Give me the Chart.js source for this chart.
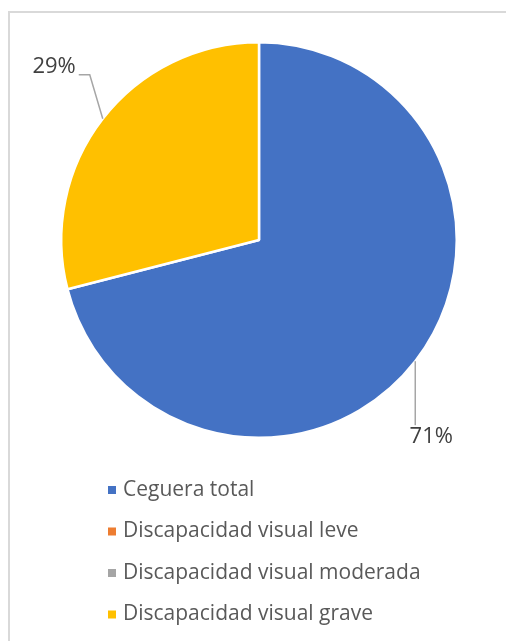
<!DOCTYPE html>
<html>
<head>
<meta charset="utf-8">
<script src="https://cdn.jsdelivr.net/npm/chart.js@4.4.1/dist/chart.umd.min.js"></script>
<style>
  html, body { margin: 0; padding: 0; background: #fff; }
  #wrap { width: 506px; height: 641px; position: relative; }
</style>
</head>
<body>
<div id="wrap"><canvas id="chart"></canvas></div>
<script>
// Data
const categories = ['Ceguera total', 'Discapacidad visual leve', 'Discapacidad visual moderada', 'Discapacidad visual grave'];
const values = [71, 0, 0, 29];
const colors = ['#4472C4', '#ED7D31', '#A5A5A5', '#FFC000'];

const FONT = '"Open Sans", Lato, sans-serif';
const TEXT = '#595959';

// Frame, outside labels with leader lines and a vertical legend
const decorPlugin = {
    id: 'decor',
    beforeDraw(chart) {
        const c = chart.ctx;
        c.save();
        c.strokeStyle = '#D9D9D9';
        c.lineWidth = 2;
        c.strokeRect(9, 12, 620, 700);
        c.restore();
    },
    afterDraw(chart) {
        const c = chart.ctx;
        const meta = chart.getDatasetMeta(0);
        const total = values.reduce((a, b) => a + b, 0);
        c.save();
        meta.data.forEach((arc, i) => {
            if (!values[i]) return;
            const mid = (arc.startAngle + arc.endAngle) / 2;
            const ex = arc.x + Math.cos(mid) * arc.outerRadius;
            const ey = arc.y + Math.sin(mid) * arc.outerRadius;
            const txt = Math.round(values[i] / total * 100) + '%';
            c.strokeStyle = '#A6A6A6';
            c.lineWidth = 1.5;
            c.font = '22px ' + FONT;
            c.fillStyle = '#404040';
            c.textBaseline = 'middle';
            c.beginPath();
            c.moveTo(ex, ey);
            if (Math.cos(mid) < 0) {
                // label up-left of the slice with a short elbow
                const bx = ex - 13, by = ey - 44;
                c.lineTo(bx, by);
                c.lineTo(bx - 11, by);
                c.stroke();
                c.textAlign = 'right';
                c.fillText(txt, bx - 14, by - 8);
            } else {
                const by = ey + 64;
                c.lineTo(ex, by);
                c.stroke();
                c.textAlign = 'center';
                c.fillText(txt, ex + 16, by + 12);
            }
        });
        // legend
        c.font = '21px ' + FONT;
        c.textAlign = 'left';
        c.textBaseline = 'middle';
        categories.forEach((name, i) => {
            const y = 490 + i * 41.5;
            c.fillStyle = colors[i];
            c.fillRect(108, y - 4, 8, 8);
            c.fillStyle = TEXT;
            c.fillText(name, 123, y);
        });
        c.restore();
    }
};

new Chart(document.getElementById('chart'), {
    type: 'pie',
    data: {
        labels: categories,
        datasets: [{
            data: values,
            backgroundColor: colors,
            borderColor: '#ffffff',
            borderWidth: 2.5
        }]
    },
    options: {
        responsive: true,
        maintainAspectRatio: false,
        animation: false,
        layout: { padding: { left: 60, top: 41, right: 48, bottom: 202 } },
        plugins: {
            legend: { display: false },
            tooltip: { enabled: false }
        }
    },
    plugins: [decorPlugin]
});
</script>
</body>
</html>
